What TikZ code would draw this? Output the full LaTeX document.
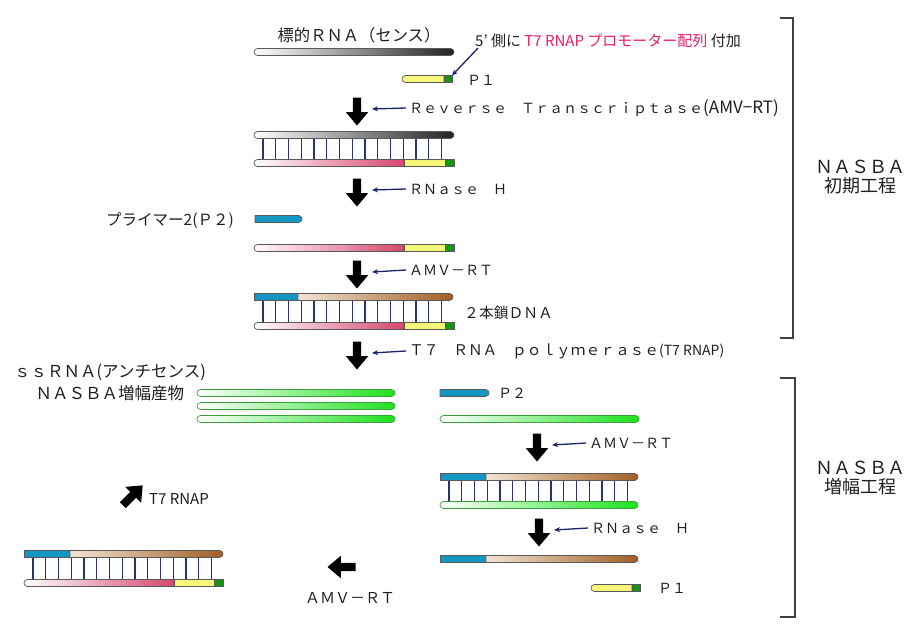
\documentclass[tikz,border=0pt]{standalone}
\usepackage{fontspec}
\setmainfont{Noto Sans CJK JP}
\usetikzlibrary{arrows.meta,shapes.misc,shapes.arrows,positioning}
\definecolor{rnagray}{RGB}{35,35,35}
\definecolor{cdnapink}{RGB}{215,70,110}
\definecolor{promyellow}{RGB}{245,245,120}
\definecolor{promgreen}{RGB}{20,150,20}
\definecolor{primerblue}{RGB}{20,150,195}
\definecolor{dnatanA}{RGB}{242,228,212}
\definecolor{dnatanB}{RGB}{160,95,35}
\definecolor{rnagreen}{RGB}{30,225,30}
\definecolor{rnagreenD}{RGB}{60,160,60}
\definecolor{rungblue}{RGB}{40,50,120}
\definecolor{enzblue}{RGB}{25,35,100}
\definecolor{promred}{RGB}{235,30,100}
\definecolor{labelgray}{RGB}{30,30,30}
\tikzstyle{strand}=[rounded rectangle, draw=black!65, line width=0.7pt, minimum height=7pt, inner sep=0pt, outer sep=0pt]
\tikzstyle{left part}=[strand, rounded rectangle right arc=none]
\tikzstyle{right part}=[strand, rounded rectangle left arc=none]
\tikzstyle{mid part}=[strand, rectangle]
\tikzstyle{rna strand}=[strand, left color=white, right color=rnagray]
\tikzstyle{cdna part}=[left part, left color=white, right color=cdnapink]
\tikzstyle{promoter}=[mid part, fill=promyellow]
\tikzstyle{promoter left}=[left part, fill=promyellow]
\tikzstyle{tip}=[mid part, fill=promgreen]
\tikzstyle{primer}=[right part, fill=primerblue]
\tikzstyle{primer part}=[mid part, fill=primerblue]
\tikzstyle{dna part}=[right part, left color=dnatanA, right color=dnatanB]
\tikzstyle{green strand}=[strand, draw=rnagreenD, left color=white, right color=rnagreen]
\tikzstyle{rung}=[draw=rungblue, line width=1.1pt]
\tikzstyle{big arrow}=[single arrow, fill=black, draw=none, minimum height=28pt, single arrow head extend=7pt, inner sep=4pt, single arrow tip angle=80]
\tikzstyle{enz arrow}=[draw=enzblue, line width=1.3pt, -{Stealth[length=6pt,width=5pt]}]
\tikzstyle{plain label}=[inner sep=0pt, text=labelgray]
\tikzstyle{enz label}=[plain label, anchor=west, inner xsep=3pt, font=\fontsize{14}{14}\selectfont]
\tikzstyle{phase label}=[plain label, align=center, font=\fontsize{18}{19.5}\selectfont]
\tikzstyle{bracket}=[draw=black!75, line width=1.3pt]

\begin{document}
\begin{tikzpicture}[x=1pt,y=-1pt]
    \useasboundingbox (0,0) rectangle (913,640);
    % First the rungs of the four duplexes
    \foreach \lx/\ty/\by in {254/135/163, 254/297/326, 440/477/505, 24/554/583}
        \foreach \i in {0,...,14}
            \draw[rung] ({\lx+9+12.75*\i},\ty+3) -- ({\lx+9+12.75*\i},\by-3);

    % Target RNA and primer P1
    \node[rna strand, minimum width=200pt, anchor=west] (rna) at (254,52) {};
    \node[plain label, font=\fontsize{16.3}{16}\selectfont] (rnalbl) at (359,35) {標的ＲＮＡ（センス）};
    \node[plain label, anchor=west, font=\fontsize{15}{15}\selectfont] (five) at (475,41) {5’ 側に \textcolor{promred}{T7 RNAP プロモーター配列} 付加};
    \node[promoter left, minimum width=42pt, anchor=west] (p1a) at (402,79) {};
    \node[tip, minimum width=8pt, right=0pt of p1a] (p1b) {};
    \node[enz label] (p1lbl) at (464,80) {Ｐ１};
    \draw[enz arrow] ([xshift=3pt]five.south west) -- (p1b.north east);

    % RNA / cDNA hybrid
    \node[rna strand, minimum width=200pt, anchor=west] (d1top) at (254,135) {};
    \node[cdna part, minimum width=150pt, anchor=west] (d1pink) at (254,163) {};
    \node[promoter, minimum width=41pt, right=0pt of d1pink] (d1yel) {};
    \node[tip, minimum width=9pt, right=0pt of d1yel] (d1tip) {};

    % cDNA and primer P2
    \node[primer, minimum width=47pt, anchor=west] (p2) at (255,219) {};
    \node[plain label, anchor=east, font=\fontsize{15.5}{15}\selectfont] (p2lbl) at (234,221) {プライマー2(Ｐ２)};
    \node[cdna part, minimum width=150pt, anchor=west] (s2pink) at (254,248) {};
    \node[promoter, minimum width=41pt, right=0pt of s2pink] (s2yel) {};
    \node[tip, minimum width=9pt, right=0pt of s2yel] (s2tip) {};

    % double stranded DNA
    \node[primer part, minimum width=44pt, anchor=west] (d2blue) at (254,297) {};
    \node[dna part, minimum width=155pt, right=0pt of d2blue] (d2tan) {};
    \node[cdna part, minimum width=150pt, anchor=west] (d2pink) at (254,326) {};
    \node[promoter, minimum width=41pt, right=0pt of d2pink] (d2yel) {};
    \node[tip, minimum width=9pt, right=0pt of d2yel] (d2tip) {};
    \node[enz label, font=\fontsize{14.8}{14}\selectfont] (dslbl) at (461,313) {２本鎖ＤＮＡ};

    % antisense RNA products
    \node[plain label, align=center, font=\fontsize{16.5}{22}\selectfont] (sslbl) at (110,382) {ｓｓＲＮＡ(アンチセンス)\\ＮＡＳＢＡ増幅産物};
    \foreach \y/\name in {393/g1, 406/g2, 419/g3}
        \node[green strand, minimum width=198pt, anchor=west] (\name) at (197,\y) {};

    % amplification cycle
    \node[primer, minimum width=49pt, anchor=west] (p2b) at (440,393) {};
    \node[enz label] (p2blbl) at (495,393) {Ｐ２};
    \node[green strand, minimum width=199pt, anchor=west] (g4) at (440,419) {};
    \node[primer part, minimum width=46pt, anchor=west] (d3blue) at (440,477) {};
    \node[dna part, minimum width=152pt, right=0pt of d3blue] (d3tan) {};
    \node[green strand, minimum width=198pt, anchor=west] (d3green) at (440,505) {};
    \node[primer part, minimum width=46pt, anchor=west] (s3blue) at (440,559) {};
    \node[dna part, minimum width=152pt, right=0pt of s3blue] (s3tan) {};
    \node[promoter left, minimum width=41pt, anchor=west] (p1c) at (591,588) {};
    \node[tip, minimum width=8pt, right=0pt of p1c] (p1d) {};
    \node[enz label] (p1dlbl) at (655,588) {Ｐ１};

    % double stranded DNA again
    \node[primer part, minimum width=46pt, anchor=west] (d4blue) at (24,554) {};
    \node[dna part, minimum width=153pt, right=0pt of d4blue] (d4tan) {};
    \node[cdna part, minimum width=150pt, anchor=west] (d4pink) at (24,583) {};
    \node[promoter, minimum width=40pt, right=0pt of d4pink] (d4yel) {};
    \node[tip, minimum width=9pt, right=0pt of d4yel] (d4tip) {};

    % big arrows for the steps
    \foreach \pos/\name/\dir in {{(357,109)/a1/270}, {(357,190)/a2/270}, {(357,272)/a3/270}, {(357,353)/a4/270}, {(537,445)/a5/270}, {(539,530)/a6/270}, {(344,567)/a7/180}, {(131,497)/a8/45}}
        \node[big arrow, rotate=\dir] (\name) at \pos {};

    % enzymes
    \foreach \pos/\name/\txt in {{(406,108)/e1/Ｒｅｖｅｒｓｅ　Ｔｒａｎｓｃｒｉｐｔａｓｅ{\fontsize{17}{14}\selectfont(AMV−RT)}}, {(406,189)/e2/ＲＮａｓｅ　Ｈ}, {(406,270)/e3/ＡＭＶ－ＲＴ}, {(406,351)/e4/{\fontsize{14.7}{14}\selectfont Ｔ７　ＲＮＡ　ｐｏｌｙｍｅｒａｓｅ}(T7 RNAP)}, {(586,443)/e5/ＡＭＶ－ＲＴ}, {(588,528)/e6/ＲＮａｓｅ　Ｈ}}
        \node[enz label] (\name) at \pos {\txt};
    \foreach \source/\dest in {e1/a1, e2/a2, e3/a3, e4/a4, e5/a5, e6/a6}
        \draw[enz arrow] (\source.west) -- ([xshift=15pt]\dest.center);
    \node[plain label, font=\fontsize{15}{15}\selectfont] (e7) at (350,598) {ＡＭＶ－ＲＴ};
    \node[plain label, anchor=west, font=\fontsize{15}{15}\selectfont] (e8) at (149,499) {T7 RNAP};

    % phase brackets
    \draw[bracket] (780,18) -- (793,18) -- (793,338) -- (780,338);
    \draw[bracket] (780,378) -- (795,378) -- (795,617) -- (780,617);
    \node[phase label] (ph1) at (860,177) {ＮＡＳＢＡ\\初期工程};
    \node[phase label] (ph2) at (860,478) {ＮＡＳＢＡ\\増幅工程};
\end{tikzpicture}
\end{document}
